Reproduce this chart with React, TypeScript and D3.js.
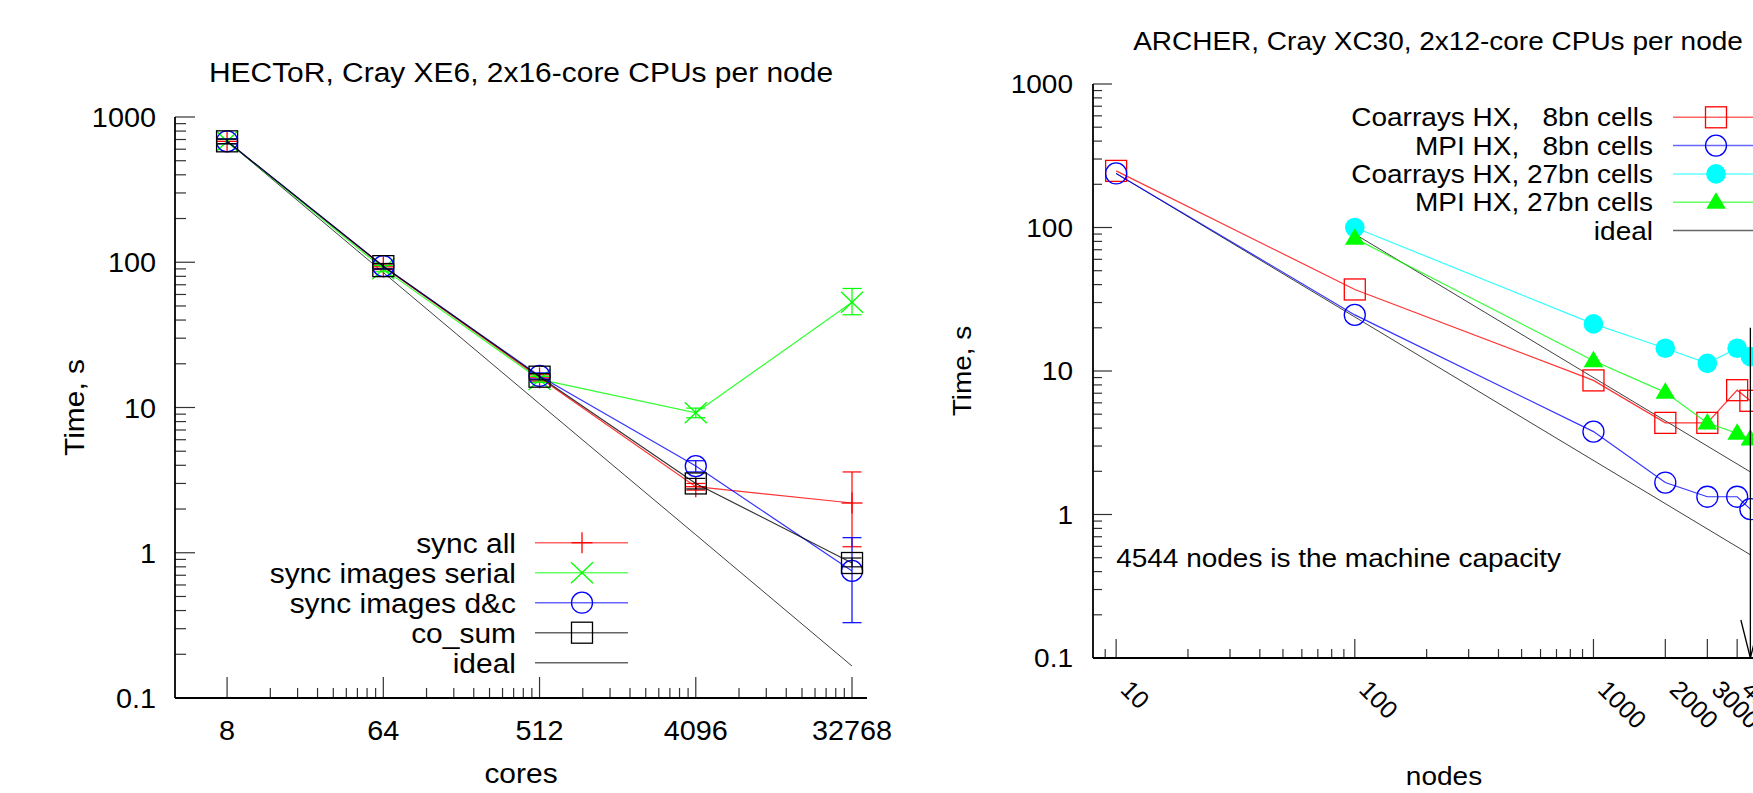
import React from 'react';
import * as d3 from 'd3';

// ---------- Left panel data (HECToR) ----------
const coresLeft = [8, 64, 512, 4096, 32768];
const syncAll = [680, 93, 16.0, 2.85, 2.2];
const syncAllLo = [655, 89, 15.2, 2.7, 1.1];
const syncAllHi = [705, 97, 16.8, 3.0, 3.6];
const syncSerial = [680, 90, 15.6, 9.2, 53];
const syncSerialLo = [655, 86, 14.9, 8.5, 43.5];
const syncSerialHi = [705, 95, 16.4, 9.9, 66];
const syncDC = [680, 94, 16.5, 3.95, 0.75];
const syncDCLo = [655, 90, 15.7, 3.6, 0.33];
const syncDCHi = [705, 98, 17.3, 4.3, 1.27];
const coSum = [680, 94, 16.3, 3.0, 0.85];
const coSumLo = [655, 90, 15.5, 2.75, 0.8];
const coSumHi = [705, 98, 17.1, 3.25, 0.92];
const idealLeft = [680, 85, 10.6, 1.33, 0.166];
const xTicksLeft = [8, 64, 512, 4096, 32768];
const yTicks = [0.1, 1, 10, 100, 1000];

// ---------- Right panel data (ARCHER) ----------
const nodes8 = [10, 100, 1000, 2000, 3000, 4000, 4544];
const coarr8 = [248, 37, 8.6, 4.35, 4.35, 7.35, 6.2];
const mpi8 = [238, 24.6, 3.78, 1.67, 1.33, 1.33, 1.09];
const nodes27 = [100, 1000, 2000, 3000, 4000, 4544];
const coarr27 = [100, 21.3, 14.4, 11.3, 14.4, 12.6];
const mpi27 = [84, 11.8, 7.1, 4.35, 3.68, 3.36];
const idealNodes8 = [10, 4544];
const ideal8 = [238, 0.524];
const idealNodes27 = [100, 4544];
const ideal27 = [90, 1.98];
const xTicksRight = [10, 100, 1000, 2000, 3000, 4000];
const capacityNodes = 4544;

const FONT = "'Liberation Sans', Arial, Helvetica, sans-serif";
const RED = '#ff0000';
const GREEN = '#00ff00';
const BLUE = '#0000ff';
const CYAN = '#00ffff';
const BLACK = '#000000';

type TxtProps = {
  x: number; y: number; children: React.ReactNode; anchor?: string; size?: number; sx?: number; rotate?: number;
};
function Txt({ x, y, children, anchor = 'start', size = 28, sx = 1, rotate = 0 }: TxtProps) {
  return (
    <text
      transform={`translate(${x},${y}) rotate(${rotate}) scale(${sx},1)`}
      textAnchor={anchor as any}
      fontSize={size}
      fontFamily={FONT}
      fill="#000"
      style={{ whiteSpace: 'pre' }}
    >
      {children}
    </text>
  );
}

function Marker({ type, x, y, color }: { type: string; x: number; y: number; color: string }) {
  const sw = 1.3;
  switch (type) {
    case 'plus':
      return (
        <g stroke={color} strokeWidth={sw}>
          <line x1={x - 10.5} y1={y} x2={x + 10.5} y2={y} />
          <line x1={x} y1={y - 10.5} x2={x} y2={y + 10.5} />
        </g>
      );
    case 'cross':
      return (
        <g stroke={color} strokeWidth={sw}>
          <line x1={x - 11} y1={y - 10.5} x2={x + 11} y2={y + 10.5} />
          <line x1={x - 11} y1={y + 10.5} x2={x + 11} y2={y - 10.5} />
        </g>
      );
    case 'circle':
      return <circle cx={x} cy={y} r={10.5} fill="none" stroke={color} strokeWidth={sw} />;
    case 'square':
      return <rect x={x - 10.5} y={y - 10.5} width={21} height={21} fill="none" stroke={color} strokeWidth={sw} />;
    case 'fcircle':
      return <circle cx={x} cy={y} r={9.8} fill={color} stroke="none" />;
    case 'ftriangle':
      return <path d={`M${x},${y - 10} L${x + 9.8},${y + 6.5} L${x - 9.8},${y + 6.5} Z`} fill={color} />;
    default:
      return null;
  }
}

function LeftPanel() {
  const x = d3.scaleLog().domain([4, 40000]).range([175, 867]);
  const y = d3.scaleLog().domain([0.1, 1000]).range([698, 117]);
  const line = d3.line<[number, number]>().x(d => x(d[0])).y(d => y(d[1]));
  const series = [
    { name: 'sync all', vals: syncAll, lo: syncAllLo, hi: syncAllHi, color: RED, marker: 'plus' },
    { name: 'sync images serial', vals: syncSerial, lo: syncSerialLo, hi: syncSerialHi, color: GREEN, marker: 'cross' },
    { name: 'sync images d&c', vals: syncDC, lo: syncDCLo, hi: syncDCHi, color: BLUE, marker: 'circle' },
    { name: 'co_sum', vals: coSum, lo: coSumLo, hi: coSumHi, color: BLACK, marker: 'square' },
  ];
  const minorX: number[] = [];
  xTicksLeft.slice(0, -1).forEach(b => {
    for (let k = 1; k <= 8; k++) minorX.push(b * (1 + (k * 7) / 9));
  });
  const minorY: number[] = [];
  yTicks.slice(0, -1).forEach(b => {
    for (let m = 2; m <= 9; m++) minorY.push(b * m);
  });
  const x0 = x.range()[0], x1 = x.range()[1];
  const y0 = y.range()[0], y1 = y.range()[1];
  const S = 28;
  const SX = 1.07;
  return (
    <g>
      <Txt x={(x0 + x1) / 2} y={82} anchor="middle" size={S} sx={SX}>HECToR, Cray XE6, 2x16-core CPUs per node</Txt>
      <g stroke="#333" strokeWidth={1.2}>
        {yTicks.map(t => <line key={'yt' + t} x1={x0} x2={x0 + 20} y1={y(t)} y2={y(t)} />)}
        {minorY.map(t => <line key={'ym' + t} x1={x0} x2={x0 + 11} y1={y(t)} y2={y(t)} />)}
        {xTicksLeft.map(t => <line key={'xt' + t} x1={x(t)} x2={x(t)} y1={y0} y2={y0 - 21} />)}
        {minorX.map(t => <line key={'xm' + t} x1={x(t)} x2={x(t)} y1={y0} y2={y0 - 10} />)}
      </g>
      {yTicks.map(t => (
        <Txt key={'yl' + t} x={156} y={y(t) + 10} anchor="end" size={S} sx={1.03}>{String(t)}</Txt>
      ))}
      {xTicksLeft.map(t => (
        <Txt key={'xl' + t} x={x(t)} y={740} anchor="middle" size={S} sx={1.03}>{String(t)}</Txt>
      ))}
      <Txt x={(x0 + x1) / 2} y={783} anchor="middle" size={S} sx={SX}>cores</Txt>
      <Txt x={84} y={(y0 + y1) / 2} anchor="middle" size={S} rotate={-90} sx={SX}>Time, s</Txt>
      <path d={line(coresLeft.map((c, i) => [c, idealLeft[i]] as [number, number])) || ''} fill="none" stroke={BLACK} strokeWidth={1} strokeOpacity={0.75} />
      {series.map(s => (
        <g key={s.name}>
          <path d={line(coresLeft.map((c, i) => [c, s.vals[i]] as [number, number])) || ''} fill="none" stroke={s.color} strokeWidth={1.2} strokeOpacity={0.8} />
          {coresLeft.map((c, i) => (
            <g key={c} stroke={s.color} strokeWidth={1.2}>
              <line x1={x(c)} x2={x(c)} y1={y(s.lo[i])} y2={y(s.hi[i])} />
              <line x1={x(c) - 9.5} x2={x(c) + 9.5} y1={y(s.lo[i])} y2={y(s.lo[i])} />
              <line x1={x(c) - 9.5} x2={x(c) + 9.5} y1={y(s.hi[i])} y2={y(s.hi[i])} />
            </g>
          ))}
          {coresLeft.map((c, i) => <Marker key={'m' + c} type={s.marker} x={x(c)} y={y(s.vals[i])} color={s.color} />)}
        </g>
      ))}
      {[...series, { name: 'ideal', color: BLACK, marker: 'none' }].map((s, i) => {
        const ly = 542.7 + 30 * i;
        return (
          <g key={'lg' + s.name}>
            <Txt x={516} y={ly + 10} anchor="end" size={S} sx={SX}>{s.name}</Txt>
            <line x1={535} x2={628} y1={ly} y2={ly} stroke={s.color} strokeWidth={1.5} strokeOpacity={0.6} />
            <Marker type={s.marker} x={582} y={ly} color={s.color} />
          </g>
        );
      })}
      <g stroke="#000" strokeWidth={1.8}>
        <line x1={x0} x2={x0} y1={y0} y2={y1} />
        <line x1={x0} x2={x1} y1={y0} y2={y0} />
      </g>
    </g>
  );
}

function RightPanel() {
  const x = d3.scaleLog().domain([8, 8000]).range([1093, 1809]);
  const y = d3.scaleLog().domain([0.1, 1000]).range([658, 84]);
  const line = d3.line<[number, number]>().x(d => x(d[0])).y(d => y(d[1]));
  const S = 25;
  const SX = 1.12;
  const series = [
    { name: 'Coarrays HX,   8bn cells', nodes: nodes8, vals: coarr8, color: RED, marker: 'square' },
    { name: 'MPI HX,   8bn cells', nodes: nodes8, vals: mpi8, color: BLUE, marker: 'circle' },
    { name: 'Coarrays HX, 27bn cells', nodes: nodes27, vals: coarr27, color: CYAN, marker: 'fcircle' },
    { name: 'MPI HX, 27bn cells', nodes: nodes27, vals: mpi27, color: GREEN, marker: 'ftriangle' },
  ];
  const minorX: number[] = [];
  [1, 10, 100].forEach(d => {
    for (let m = 2; m <= 9; m++) {
      const v = m * d;
      if (v > 8 && !xTicksRight.includes(v)) minorX.push(v);
    }
  });
  const minorY: number[] = [];
  yTicks.slice(0, -1).forEach(b => {
    for (let m = 2; m <= 9; m++) minorY.push(b * m);
  });
  const x0 = x.range()[0], x1 = x.range()[1];
  const y0 = y.range()[0], y1 = y.range()[1];
  const ax = x(capacityNodes);
  return (
    <g>
      <Txt x={1438} y={50} anchor="middle" size={S} sx={SX}>ARCHER, Cray XC30, 2x12-core CPUs per node</Txt>
      <g stroke="#333" strokeWidth={1.2}>
        {yTicks.map(t => <line key={'yt' + t} x1={x0} x2={x0 + 19} y1={y(t)} y2={y(t)} />)}
        {minorY.map(t => <line key={'ym' + t} x1={x0} x2={x0 + 9} y1={y(t)} y2={y(t)} />)}
        {xTicksRight.map(t => <line key={'xt' + t} x1={x(t)} x2={x(t)} y1={y0} y2={y0 - 19} />)}
        {minorX.map(t => <line key={'xm' + t} x1={x(t)} x2={x(t)} y1={y0} y2={y0 - 9} />)}
      </g>
      {yTicks.map(t => (
        <Txt key={'yl' + t} x={1073} y={y(t) + 9} anchor="end" size={S} sx={SX}>{String(t)}</Txt>
      ))}
      {xTicksRight.map(t => (
        <Txt key={'xl' + t} x={x(t) + 3} y={691} anchor="start" size={S} rotate={45}>{String(t)}</Txt>
      ))}
      <Txt x={1444} y={785} anchor="middle" size={S} sx={SX}>nodes</Txt>
      <Txt x={971} y={(y0 + y1) / 2} anchor="middle" size={S} sx={SX} rotate={-90}>Time, s</Txt>
      <Txt x={x(10)} y={567} anchor="start" size={S} sx={SX}>4544 nodes is the machine capacity</Txt>
      <path d={line(idealNodes8.map((n, i) => [n, ideal8[i]] as [number, number])) || ''} fill="none" stroke={BLACK} strokeWidth={1} strokeOpacity={0.75} />
      <path d={line(idealNodes27.map((n, i) => [n, ideal27[i]] as [number, number])) || ''} fill="none" stroke={BLACK} strokeWidth={1} strokeOpacity={0.75} />
      {series.map(s => (
        <g key={s.name}>
          <path d={line(s.nodes.map((n, i) => [n, s.vals[i]] as [number, number])) || ''} fill="none" stroke={s.color} strokeWidth={1.2} strokeOpacity={0.8} />
          {s.nodes.map((n, i) => <Marker key={n} type={s.marker} x={x(n)} y={y(s.vals[i])} color={s.color} />)}
        </g>
      ))}
      <g stroke="#000" strokeWidth={1.3} fill="none">
        <line x1={ax} x2={ax} y1={y(20)} y2={y0} />
        <path d={`M${ax - 9.5},${y0 - 38} L${ax},${y0} L${ax + 9.5},${y0 - 38}`} />
      </g>
      {[...series, { name: 'ideal', color: BLACK, marker: 'none' }].map((s, i) => {
        const ly = 117.3 + 28.3 * i;
        return (
          <g key={'lg' + s.name}>
            <Txt x={1653} y={ly + 9} anchor="end" size={S} sx={SX}>{s.name}</Txt>
            <line x1={1673} x2={1764} y1={ly} y2={ly} stroke={s.color} strokeWidth={1.5} strokeOpacity={0.6} />
            <Marker type={s.marker} x={1716} y={ly} color={s.color} />
          </g>
        );
      })}
      <g stroke="#000" strokeWidth={1.8}>
        <line x1={x0} x2={x0} y1={y0} y2={y1} />
        <line x1={x0} x2={x1} y1={y0} y2={y0} />
      </g>
    </g>
  );
}

export default function App() {
  return (
    <svg
      width={1753}
      height={793}
      viewBox="0 0 1753 793"
      style={{ position: 'absolute', left: 0, top: 0, background: '#fff', overflow: 'hidden' }}
    >
      <rect x={0} y={0} width={1753} height={793} fill="#fff" />
      <LeftPanel />
      <RightPanel />
    </svg>
  );
}
